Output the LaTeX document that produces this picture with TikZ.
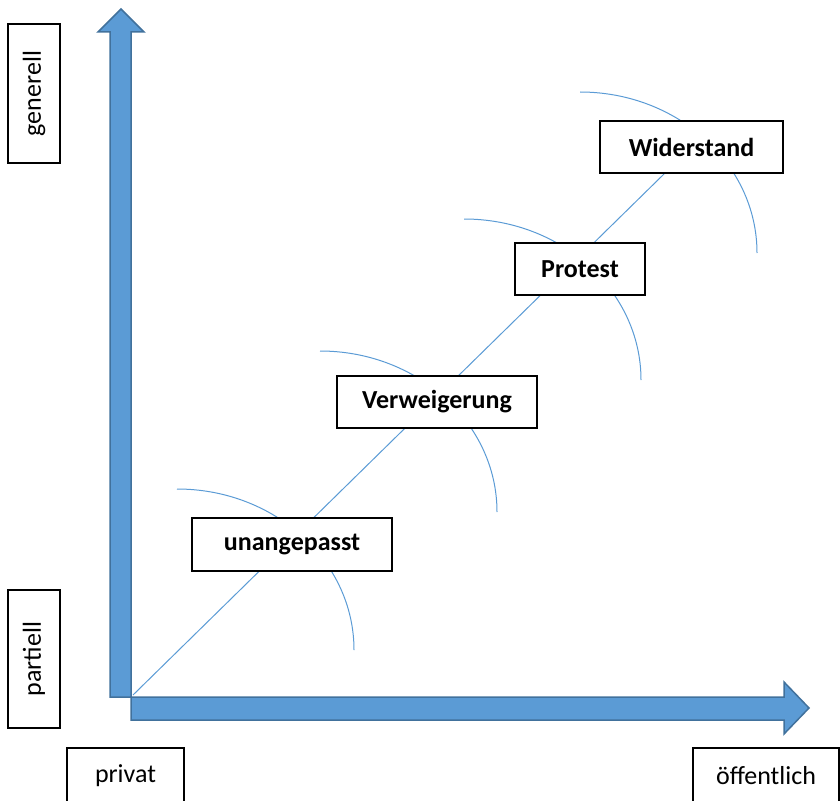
\documentclass[tikz,border=0pt]{standalone}
\usepackage{fontspec}
\setmainfont{Carlito}
\usetikzlibrary{positioning,backgrounds}
\definecolor{achsblau}{HTML}{5B9BD5}
\definecolor{achsrand}{HTML}{41719C}

\begin{document}
\begin{tikzpicture}[x=0.5pt,y=0.5pt]
  \tikzstyle{stufe}=[draw, fill=white, line width=0.75pt, font=\fontsize{13}{15}\selectfont\bfseries, minimum height=26pt, inner sep=0pt]
  \tikzstyle{achse}=[draw, fill=white, line width=0.75pt, font=\fontsize{13}{15}\selectfont, inner sep=0pt]
  \tikzstyle{pfeil}=[fill=achsblau, draw=achsrand, line width=0.75pt, line join=miter]
  \tikzstyle{linie}=[achsblau, line width=0.5pt]

  \useasboundingbox (0,0) rectangle (840,800);
  \clip (0,0) rectangle (840,800);

  % Achsen
  \draw[pfeil] (110,103) -- (131,103) -- (131,768) -- (144,768) -- (121,791) -- (98,768) -- (110,768) -- cycle;
  \draw[pfeil] (131,103) -- (784,103) -- (784,118) -- (809,92) -- (784,66) -- (784,80) -- (131,80) -- cycle;
  \coordinate (ursprung) at (133,105);

  % Beschriftung der Achsen
  \node[achse, rotate=90, minimum width=69.5pt, minimum height=26pt] (generell) at (34,706.5) {generell};
  \node[achse, rotate=90, minimum width=69pt, minimum height=26pt] (partiell) at (34,141) {partiell};
  \node[achse, minimum width=58.5pt, minimum height=28pt] (privat) at (125.5,24) {privat};
  \node[achse, minimum width=73pt, minimum height=28pt] (oeffentlich) at (766,24) {öffentlich};

  % Stufen
  \node[stufe, minimum width=100pt, minimum height=26.5pt] (unangepasst) at (292,255.5) {unangepasst};
  \node[stufe, minimum width=100pt] (verweigerung) at (437,398) {Verweigerung};
  \node[stufe, minimum width=65pt] (protest) at (580,531) {Protest};
  \node[stufe, minimum width=91.5pt] (widerstand) at (691.5,653) {Widerstand};

  % Diagonale und Boegen hinter den Kaesten
  \begin{scope}[on background layer]
    \draw[linie] (ursprung) -- (widerstand);
    \draw[linie] (177,311) arc[start angle=90, end angle=0, x radius=177, y radius=161];
    \draw[linie] (320,449) arc[start angle=90, end angle=0, x radius=177, y radius=161];
    \draw[linie] (464,581) arc[start angle=90, end angle=0, x radius=177, y radius=161];
    \draw[linie] (580,708) arc[start angle=90, end angle=0, x radius=177, y radius=161];
  \end{scope}
\end{tikzpicture}
\end{document}
